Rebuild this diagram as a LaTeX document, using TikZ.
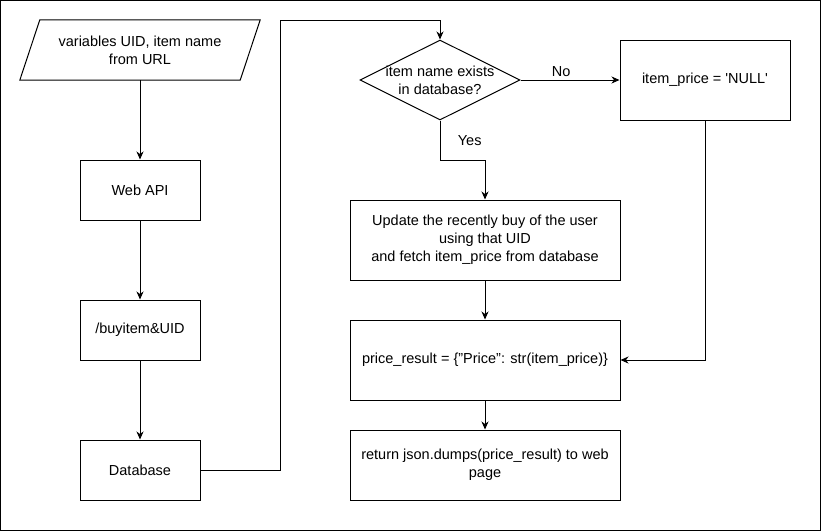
\documentclass[tikz,border=0pt]{standalone}
\usepackage{fontspec}
\setmainfont{Liberation Sans}
\usepackage{tikz}
\usetikzlibrary{shapes,arrows,arrows.meta,positioning}

\begin{document}
\begin{tikzpicture}[
    x=1pt, y=-1pt,
    every node/.style={font=\fontsize{14.5}{18}\selectfont},
    box/.style={rectangle, draw, line width=1pt, minimum width=120pt, minimum height=60pt, align=center, inner sep=0pt},
    widebox/.style={box, minimum width=270pt, minimum height=80pt},
    iobox/.style={rectangle, minimum width=220pt, minimum height=60pt, align=center, inner sep=0pt},
    decision/.style={diamond, draw, line width=1pt, minimum width=160pt, minimum height=80pt, inner sep=0pt},
    arrow/.style={-{Stealth[length=8pt, width=7pt, inset=2.5pt]}, line width=1pt}
]
    \useasboundingbox (0,0) rectangle (821,531);
    \draw[line width=1pt] (0.5,0.5) rectangle (820.5,530.5);

    % input slanted box
    \node[iobox] (input) at (140,50) {variables UID, item name\\from URL};
    \draw[line width=1pt] ([xshift=10pt]input.north west) -- ([xshift=10pt]input.north east)
        -- ([xshift=-10pt]input.south east) -- ([xshift=-10pt]input.south west) -- cycle;
    \node[box] (webapi) at (140,190) {Web API};
    \node[box] (buyitem) at (140,330) {/buyitem\&UID};
    \node[box] (database) at (140,470) {Database};

    \node[decision] (check) at (440,80) {};
    \node[align=center] (checktext) at (check) {item name exists\\in database?};
    \node[box, minimum width=170pt, minimum height=80pt] (null) at (705,80) {item\_price = \textquotesingle NULL\textquotesingle};

    \node[widebox] (update) at (485,240) {Update the recently buy of the user\\using that UID\\and fetch item\_price from database};
    \node[widebox] (price) at (485,360) {price\_result = \{"Price": str(item\_price)\}};
    \node[widebox, minimum height=70pt] (result) at (485,465) {return json.dumps(price\_result) to web\\page};

    \coordinate (turn) at (280,20);

    \draw[arrow] (input) -- (webapi);
    \draw[arrow] (webapi) -- (buyitem);
    \draw[arrow] (buyitem) -- (database);
    \draw[arrow] (database.east) -| (turn) -| (check.north);
    \draw[arrow] (check.east) -- node[above, pos=0.41] {No} (null.west);
    \draw[arrow] (check.south) -- node[right, xshift=14pt] {Yes} ++(0,40) -| (update.north);
    \draw[arrow] (null.south) |- (price.east);
    \draw[arrow] (update) -- (price);
    \draw[arrow] (price) -- (result);
\end{tikzpicture}
\end{document}
